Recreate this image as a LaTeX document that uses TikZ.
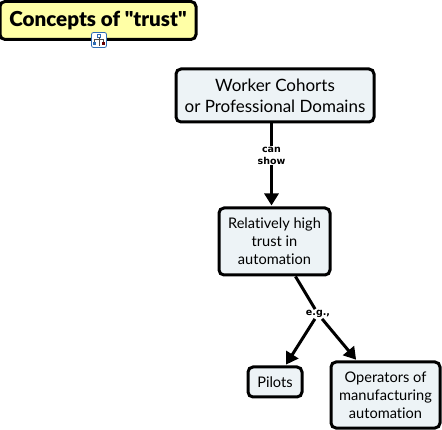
\documentclass[tikz,border=0pt]{standalone}
\usepackage{fontspec}
\setmainfont[Ligatures=NoCommon]{Lato}
\newfontfamily\linkfont[Ligatures=NoCommon]{DejaVu Sans}
\newfontfamily\titlefont{Lato Black}
\usetikzlibrary{arrows.meta}
\definecolor{titlefill}{HTML}{FFFFA6}
\definecolor{boxfill}{HTML}{EDF3F6}
\definecolor{iconblue}{HTML}{2F6DB5}
\tikzset{
  conceptbox/.style={draw=black,line width=3pt,rounded corners=5pt,fill=boxfill,align=center,inner sep=0pt,font=\fontsize{14.6}{18}\selectfont},
  titlebox/.style={conceptbox,fill=titlefill,font=\fontsize{20.6}{22}\titlefont},
  linkword/.style={fill=white,inner sep=1pt,align=center,font=\fontsize{9.5}{12}\linkfont\bfseries},
  link/.style={draw=black,line width=3pt},
  linkarrow/.style={link,-{Triangle[length=12pt,width=14pt]},shorten >=1pt}
}
\begin{document}
\begin{tikzpicture}[x=1pt,y=-1pt]
\useasboundingbox[fill=white] (0,0) rectangle (442,430);
\node[titlebox,minimum width=196pt,minimum height=38pt] (concepts) at (98,20.5) {\raisebox{2.5pt}{Concepts of \char34 trust\char34}};
\node[conceptbox,minimum width=198pt,minimum height=53pt,font=\fontsize{17}{21}\selectfont] (cohorts) at (275,95.5) {Worker Cohorts\\or Professional Domains};
\node[linkword] (canshow) at (271.5,155.5) {can\\show};
\node[conceptbox,minimum width=111pt,minimum height=67pt] (hightrust) at (274.5,241.5) {Relatively high\\trust in\\automation};
\node[linkword] (eg) at (318,314) {e.g.,};
\node[conceptbox,minimum width=54pt,minimum height=30pt] (pilots) at (275,382) {Pilots};
\node[conceptbox,minimum width=109pt,minimum height=66pt] (operators) at (385.5,395) {Operators of\\manufacturing\\automation};
\draw[link] (cohorts.south -| canshow) -- (canshow);
\draw[linkarrow] (canshow) -- (hightrust.north -| canshow);
\draw[link] (hightrust) -- (eg);
\draw[linkarrow] (eg) -- (pilots);
\draw[linkarrow] (eg) -- (operators);
% the small submap icon under the title
\node[draw=iconblue,line width=0.8pt,fill=white,rounded corners=2pt,minimum size=15pt,inner sep=0pt] (submap) at (99,40) {};
\draw[iconblue,line width=0.7pt] (97.5,34) rectangle (100.5,37);       % top block
\draw[black!70,line width=0.6pt] (99,37) -- (99,46) (94.5,42) -- (94.5,39) -- (103.5,39) -- (103.5,42);
\fill[iconblue] (93,42) rectangle (96,45.5);        % left block
\fill[black!60!red] (102,42) rectangle (105,45.5);  % right block
\end{tikzpicture}
\end{document}
